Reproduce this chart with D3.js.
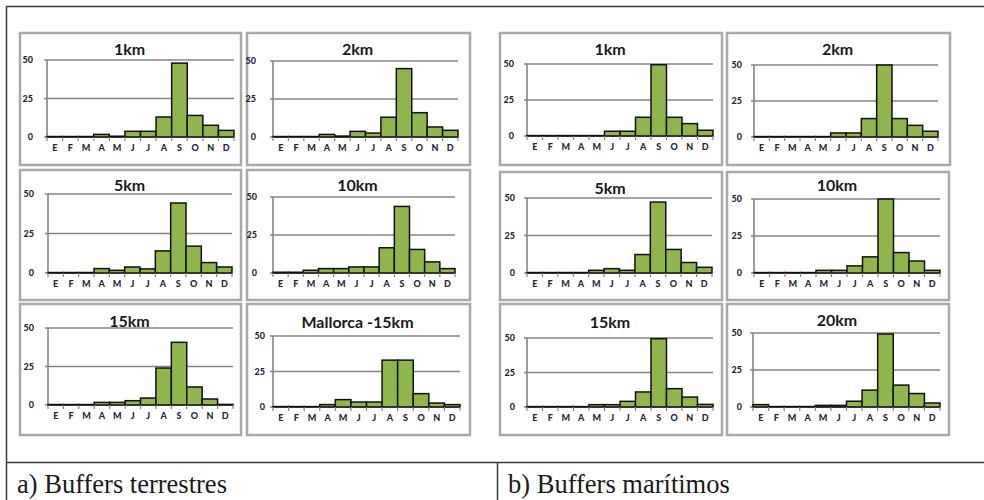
<!DOCTYPE html>
<html><head><meta charset="utf-8">
<script src="https://cdn.jsdelivr.net/npm/d3@7"></script>
<style>body{margin:0;background:#fff} svg{display:block}</style>
</head><body><svg id="c" width="984" height="500"></svg>
<script>
// ---- data ----
const months = ["E","F","M","A","M","J","J","A","S","O","N","D"];
const yTicks = [0, 25, 50];
const titlesTerr = ["1km","2km","5km","10km","15km","Mallorca -15km"];
const titlesMar  = ["1km","2km","5km","10km","15km","20km"];
const terr1km  = [0.3,0.3,0.3,1.7,0.5,3.7,3.7,13,48,14,7.6,4.3];
const terr2km  = [0.3,0.3,0.3,1.7,0.6,3.7,2.6,13,45,16,6.6,4.4];
const terr5km  = [0.3,0.3,0.3,2.8,1.7,3.8,2.6,14,44.3,17,6.6,3.8];
const terr10km = [0.5,0.5,1.8,2.9,2.9,4,4,16.6,43.8,15.5,7.3,2.9];
const terr15km = [0.3,0.3,0.3,1.7,1.7,2.8,4.5,24,40.7,11.7,3.9,0.4];
const mallorca15km = [0.3,0.3,0.3,1.7,5.2,3.5,3.5,33,33,9.4,2.8,1.7];
const mar1km  = [0.3,0.3,0.3,0.3,0.3,3.3,3.3,13,49.5,13,8.6,4];
const mar2km  = [0.3,0.3,0.3,0.3,0.3,2.8,2.8,12.8,50,12.8,8.1,4];
const mar5km  = [0.3,0.3,0.3,0.3,1.8,2.9,1.8,12.3,47.3,15.7,7,3.8];
const mar10km = [0.3,0.3,0.3,0.3,1.8,1.8,4.8,10.9,50,13.8,8.1,1.8];
const mar15km = [0.3,0.3,0.3,0.3,1.7,1.7,4.1,10.9,49.5,13.3,7.2,1.9];
const mar20km = [1.6,0.3,0.3,0.3,1.1,1.1,3.9,11.4,49.3,14.8,9.1,2.7];
const captions = ["a) Buffers terrestres", "b) Buffers marítimos"];

const seriesList = [terr1km, terr2km, terr5km, terr10km, terr15km, mallorca15km,
                    mar1km, mar2km, mar5km, mar10km, mar15km, mar20km];
const titleList = titlesTerr.concat(titlesMar);

// ---- layout (positions only) ----
const layout = [
  {box:[20,33,241,165],  pl:47,  pr:234, yt:60,  yb:137, ty:49,  lg:14},
  {box:[247,33,470,165], pl:273, pr:458, yt:61,  yb:137, ty:49,  lg:17},
  {box:[20,170,241,300], pl:48,  pr:232, yt:194, yb:273, ty:185, lg:14},
  {box:[247,170,470,300],pl:273, pr:455, yt:197, yb:273, ty:185, lg:16},
  {box:[20,304,241,435], pl:48,  pr:233, yt:328, yb:405, ty:321, lg:14},
  {box:[247,304,470,435],pl:273, pr:460, yt:336, yb:407, ty:322, lg:8},
  {box:[500,33,722,165], pl:527, pr:713, yt:64,  yb:136, ty:49,  lg:13},
  {box:[727,33,950,165], pl:754, pr:938, yt:65,  yb:137, ty:49,  lg:12},
  {box:[500,172,722,300],pl:527, pr:712, yt:198, yb:273, ty:188, lg:12},
  {box:[727,172,949,300],pl:754, pr:940, yt:199, yb:273, ty:185, lg:12},
  {box:[500,304,722,435],pl:527, pr:713, yt:338, yb:407, ty:322, lg:12},
  {box:[727,304,949,435],pl:753, pr:940, yt:333, yb:407, ty:320, lg:11}
];

const svg = d3.select("#c");
const lineCol = "#3c3c3c";

// table frame
const frame = svg.append("g").attr("stroke", lineCol).attr("stroke-width", 1.5);
frame.append("line").attr("x1",6).attr("x2",984).attr("y1",6.5).attr("y2",6.5);
frame.append("line").attr("x1",6.5).attr("x2",6.5).attr("y1",6).attr("y2",500);
frame.append("line").attr("x1",6).attr("x2",984).attr("y1",462.5).attr("y2",462.5);
frame.append("line").attr("x1",497.5).attr("x2",497.5).attr("y1",462).attr("y2",500);

svg.append("text").attr("x",17).attr("y",493)
  .attr("font-family","'Liberation Serif', 'Times New Roman', serif")
  .attr("font-size",26.5).attr("fill","#1a1a1a").text(captions[0]);
svg.append("text").attr("x",508).attr("y",493)
  .attr("font-family","'Liberation Serif', 'Times New Roman', serif")
  .attr("font-size",26.5).attr("fill","#1a1a1a").text(captions[1]);

seriesList.forEach((vals, k) => {
  const L = layout[k];
  const [bx0, by0, bx1, by1] = L.box;
  const g = svg.append("g");
  g.append("rect").attr("x",bx0).attr("y",by0).attr("width",bx1-bx0).attr("height",by1-by0)
    .attr("fill","#fff").attr("stroke","#a9a9a9").attr("stroke-width",2.5);

  const x = d3.scaleBand().domain(d3.range(months.length)).range([L.pl, L.pr]).paddingInner(0).paddingOuter(0);
  const y = d3.scaleLinear().domain([0, 50]).range([L.yb, L.yt]);

  // gridlines
  g.selectAll("line.grid").data(yTicks).join("line")
    .attr("x1", L.pl - 3).attr("x2", L.pr)
    .attr("y1", d => y(d)).attr("y2", d => y(d))
    .attr("stroke", "#858585").attr("stroke-width", 1.6);
  // y axis line
  g.append("line").attr("x1",L.pl).attr("x2",L.pl).attr("y1",y(50)).attr("y2",y(0))
    .attr("stroke","#858585").attr("stroke-width",1.6);

  // bars
  g.selectAll("rect.bar").data(vals).join("rect")
    .attr("x", (d,i) => x(i)).attr("width", x.bandwidth())
    .attr("y", d => y(d)).attr("height", d => y(0) - y(d))
    .attr("fill", "#8fb54c").attr("stroke", "#111").attr("stroke-width", 1.5);

  // x ticks at band boundaries
  const bounds = d3.range(months.length + 1).map(i => i < months.length ? x(i) : x(months.length-1) + x.bandwidth());
  g.selectAll("line.xt").data(bounds).join("line")
    .attr("x1", d => d).attr("x2", d => d).attr("y1", y(0)).attr("y2", y(0) + 4)
    .attr("stroke", "#858585").attr("stroke-width", 1.2);

  // x labels
  const xa = g.append("g").attr("transform", `translate(0,${y(0) + 11})`)
    .call(d3.axisBottom(x).tickSize(0).tickPadding(0).tickFormat(i => months[i]));
  xa.select(".domain").remove();
  xa.selectAll("text").attr("font-family","Lato, 'Open Sans', sans-serif").attr("font-weight","900")
    .attr("font-size", 9).attr("fill", "#26263a").attr("dy", "0.35em").attr("y", 0);

  // y labels
  const ya = g.append("g").attr("transform", `translate(${L.pl},0)`)
    .call(d3.axisLeft(y).tickValues(yTicks).tickSize(0).tickPadding(L.lg));
  ya.select(".domain").remove();
  ya.selectAll("text").attr("font-family","Lato, 'Open Sans', sans-serif").attr("font-weight","900")
    .attr("font-size", 9).attr("fill", "#26263a");

  // title
  g.append("text").attr("x", (bx0 + bx1) / 2 - 1).attr("y", L.ty).attr("dy", "0.36em")
    .attr("text-anchor", "middle").attr("font-family", "Lato, 'Open Sans', sans-serif")
    .attr("font-weight", "bold").attr("font-size", 16).attr("fill", "#1a1a1a")
    .text(titleList[k]);
});
</script>
</body></html>
